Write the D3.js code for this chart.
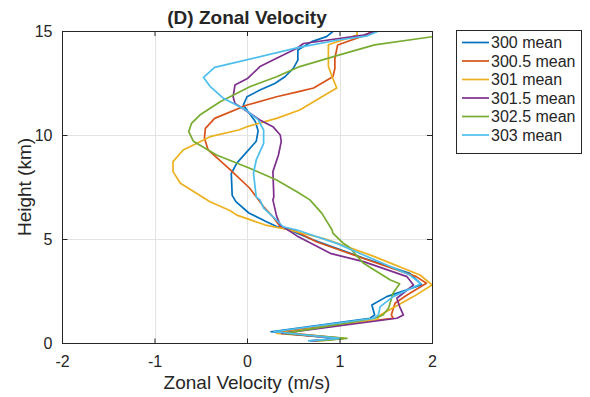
<!DOCTYPE html>
<html>
<head>
<meta charset="utf-8">
<script src="https://cdn.jsdelivr.net/npm/d3@7"></script>
<style>
  body { margin: 0; background: #fff; }
  text { font-family: "Liberation Sans", Arial, Helvetica, sans-serif; fill: #262626; }
</style>
</head>
<body>
<div id="chart"></div>
<script>
// profiles: [height (km), zonal velocity (m/s)]
var s300 = [[0.1,0.68],[0.2,1.0],[0.54,0.26],[1.19,1.33],[1.35,1.38],[1.83,1.35],[2.23,1.51],[2.8,1.89],[3.35,1.76],[4.1,1.25],[4.95,0.72],[5.45,0.45],[5.6,0.32],[5.85,0.2],[6.25,0.02],[6.8,-0.12],[7.1,-0.16],[8.15,-0.17],[8.65,-0.11],[9.7,0.1],[10.2,0.12],[10.65,0.09],[11.44,-0.04],[11.84,0.0],[12.16,0.14],[12.48,0.3],[12.8,0.41],[13.2,0.5],[13.6,0.55],[14.09,0.55],[14.49,0.7],[14.73,0.86],[15.05,0.95]];
var s3005 = [[0.1,0.72],[0.22,1.04],[0.54,0.34],[1.19,1.58],[1.35,1.56],[1.91,1.6],[2.31,1.73],[2.87,1.94],[3.19,1.83],[4.0,1.3],[4.87,0.75],[5.43,0.5],[5.59,0.36],[6.07,0.28],[6.55,0.18],[7.44,0.03],[8.32,-0.18],[9.28,-0.42],[9.84,-0.46],[10.32,-0.45],[10.8,-0.35],[11.44,0.0],[11.84,0.32],[12.1,0.57],[12.26,0.72],[12.73,0.9],[12.82,0.93],[13.2,0.95],[13.69,0.95],[14.33,0.98],[14.8,1.28],[15.05,1.37]];
var s301 = [[0.1,0.8],[0.22,1.04],[0.46,0.32],[1.1,1.4],[1.35,1.44],[2.23,1.8],[2.79,2.0],[3.27,1.87],[4.2,1.35],[5.0,0.85],[5.47,0.42],[5.67,0.2],[6.15,-0.11],[6.36,-0.18],[6.79,-0.4],[7.68,-0.72],[8.24,-0.8],[8.72,-0.8],[9.28,-0.69],[9.6,-0.54],[9.92,-0.4],[10.24,-0.09],[10.4,0.0],[10.8,0.32],[11.2,0.57],[12.26,0.97],[12.8,0.92],[13.3,0.88],[14.34,0.88],[14.8,1.19],[15.05,1.19]];
var s3015 = [[0.1,0.7],[0.22,1.0],[0.46,0.375],[1.19,1.62],[1.35,1.69],[1.75,1.65],[2.15,1.62],[2.79,1.8],[3.19,1.73],[3.91,1.26],[4.31,0.9],[5.15,0.54],[5.67,0.36],[6.1,0.32],[6.88,0.28],[7.03,0.29],[8.24,0.28],[9.04,0.34],[9.68,0.37],[10.0,0.36],[10.4,0.28],[10.72,0.14],[11.52,-0.13],[11.84,-0.15],[12.4,-0.13],[12.73,0.01],[13.29,0.14],[13.69,0.32],[14.17,0.54],[14.4,0.61],[14.8,1.26],[15.05,1.44]];
var s3025 = [[0.1,0.75],[0.22,1.08],[0.46,0.41],[1.19,1.38],[1.35,1.47],[1.67,1.53],[2.4,1.58],[2.85,1.65],[3.03,1.55],[3.83,1.26],[4.63,1.1],[4.8,1.04],[5.27,0.93],[5.43,0.92],[6.23,0.81],[6.88,0.68],[7.27,0.54],[7.84,0.32],[8.4,0.03],[9.04,-0.33],[9.7,-0.58],[10.16,-0.63],[10.56,-0.6],[10.96,-0.51],[11.6,-0.29],[12.32,0.03],[12.8,0.32],[13.29,0.57],[13.85,1.0],[14.33,1.38],[14.73,2.01],[15.0,2.5]];
var s303 = [[0.1,0.66],[0.22,1.0],[0.54,0.29],[1.19,1.37],[1.35,1.42],[1.75,1.44],[2.23,1.58],[2.85,1.88],[3.27,1.76],[4.79,0.97],[5.43,0.54],[5.59,0.39],[5.91,0.32],[6.48,0.18],[6.88,0.14],[7.03,0.1],[8.16,0.07],[8.8,0.1],[9.6,0.18],[10.24,0.18],[10.74,0.12],[11.22,-0.02],[11.78,-0.26],[12.34,-0.4],[12.77,-0.47],[13.25,-0.35],[14.2,0.55],[14.58,1.0],[14.75,1.29],[15.05,1.45]];

var seriesNames = ["300 mean", "300.5 mean", "301 mean", "301.5 mean", "302.5 mean", "303 mean"];
var seriesData = [s300, s3005, s301, s3015, s3025, s303];
var colors = ["#0072BD", "#D95319", "#EDB120", "#7E2F8E", "#77AC30", "#4DBEEE"];
var xTicks = [-2, -1, 0, 1, 2];
var yTicks = [0, 5, 10, 15];

var width = 590, height = 397;
var pLeft = 62, pRight = 432, pTop = 31, pBottom = 343;

var svg = d3.select("#chart").append("svg").attr("width", width).attr("height", height);

var x = d3.scaleLinear().domain([-2, 2]).range([pLeft, pRight]);
var y = d3.scaleLinear().domain([0, 15]).range([pBottom, pTop]);

svg.append("defs").append("clipPath").attr("id", "clip")
  .append("rect").attr("x", pLeft).attr("y", pTop).attr("width", pRight - pLeft).attr("height", pBottom - pTop);

// grid
var grid = svg.append("g").attr("stroke", "#e3e3e3").attr("stroke-width", 1);
grid.selectAll(".gx").data(xTicks).enter().append("line")
  .attr("x1", function(d) { return Math.round(x(d)) + 0.5; }).attr("x2", function(d) { return Math.round(x(d)) + 0.5; })
  .attr("y1", pTop).attr("y2", pBottom);
grid.selectAll(".gy").data(yTicks).enter().append("line")
  .attr("y1", function(d) { return Math.round(y(d)) + 0.5; }).attr("y2", function(d) { return Math.round(y(d)) + 0.5; })
  .attr("x1", pLeft).attr("x2", pRight);

// lines
var line = d3.line().x(function(d) { return x(d[1]); }).y(function(d) { return y(d[0]); });
var lines = svg.append("g").attr("clip-path", "url(#clip)");
seriesData.forEach(function(s, i) {
  lines.append("path").datum(s)
    .attr("d", line)
    .attr("fill", "none")
    .attr("stroke", colors[i])
    .attr("stroke-width", 1.7)
    .attr("stroke-linejoin", "round");
});

// axes (ticks inside, box)
var xAxis = svg.append("g").attr("transform", "translate(0," + (pBottom + 0.5) + ")")
  .call(d3.axisBottom(x).tickValues(xTicks).tickSizeInner(-5).tickSizeOuter(0).tickPadding(12).tickFormat(function(d) { return String(d); }));
var yAxis = svg.append("g").attr("transform", "translate(" + (pLeft + 0.5) + ",0)")
  .call(d3.axisLeft(y).tickValues(yTicks).tickSizeInner(-5).tickSizeOuter(0).tickPadding(10).tickFormat(function(d) { return String(d); }));
[xAxis, yAxis].forEach(function(a) {
  a.select(".domain").remove();
  a.selectAll("line").attr("stroke", "#262626");
  a.selectAll("text").style("font-size", "16px").attr("fill", "#262626")
    .style("font-family", "'Liberation Sans', Arial, sans-serif");
});

// top/right ticks
svg.append("g").selectAll("line").data(xTicks).enter().append("line")
  .attr("x1", function(d) { return x(d) + 0.5; }).attr("x2", function(d) { return x(d) + 0.5; })
  .attr("y1", pTop).attr("y2", pTop + 5).attr("stroke", "#262626");
svg.append("g").selectAll("line").data(yTicks).enter().append("line")
  .attr("y1", function(d) { return y(d) + 0.5; }).attr("y2", function(d) { return y(d) + 0.5; })
  .attr("x1", pRight - 5).attr("x2", pRight).attr("stroke", "#262626");

svg.append("rect").attr("x", pLeft + 0.5).attr("y", pTop + 0.5)
  .attr("width", pRight - pLeft).attr("height", pBottom - pTop)
  .attr("fill", "none").attr("stroke", "#262626").attr("stroke-width", 1);

// title and labels
svg.append("text").attr("x", (pLeft + pRight) / 2).attr("y", 24)
  .attr("text-anchor", "middle").style("font-size", "19px").style("font-weight", "bold")
  .text("(D) Zonal Velocity");
svg.append("text").attr("x", (pLeft + pRight) / 2).attr("y", 389)
  .attr("text-anchor", "middle").style("font-size", "19px")
  .text("Zonal Velocity (m/s)");
svg.append("text").attr("transform", "translate(31," + ((pTop + pBottom) / 2) + ") rotate(-90)")
  .attr("text-anchor", "middle").style("font-size", "19px")
  .text("Height (km)");

// legend
var lg = svg.append("g");
lg.append("rect").attr("x", 456.5).attr("y", 30.5).attr("width", 125).attr("height", 123)
  .attr("fill", "#fff").attr("stroke", "#262626").attr("stroke-width", 1);
seriesNames.forEach(function(n, i) {
  var yy = 42.5 + i * 18.5;
  lg.append("line").attr("x1", 462).attr("x2", 489).attr("y1", yy).attr("y2", yy)
    .attr("stroke", colors[i]).attr("stroke-width", 1.7);
  lg.append("text").attr("x", 491).attr("y", yy).attr("dy", "0.35em")
    .style("font-size", "16px").text(n);
});
</script>
</body>
</html>
